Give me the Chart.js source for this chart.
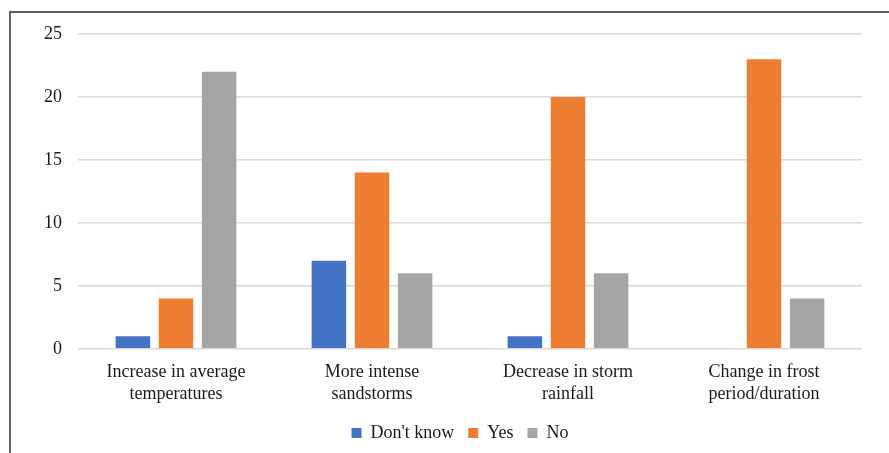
<!DOCTYPE html>
<html>
<head>
<meta charset="utf-8">
<script src="https://cdn.jsdelivr.net/npm/chart.js@4/dist/chart.umd.min.js"></script>
<style>
  html, body { margin: 0; padding: 0; background: #fff; }
  #wrap { position: relative; width: 889px; height: 453px; }
  #frame { position: absolute; left: 9px; top: 11px; right: 0; bottom: 0;
           border-left: 2px solid #5f5f5f; border-top: 2px solid #5f5f5f; pointer-events: none; }
  canvas { position: absolute; left: 0; top: 0; }
</style>
</head>
<body>
<div id="wrap">
  <canvas id="c" width="889" height="453"></canvas>
  <div id="frame"></div>
</div>
<script>
// Survey responses on perceived climate changes
const categories = [
  ['Increase in average', 'temperatures'],
  ['More intense', 'sandstorms'],
  ['Decrease in storm', 'rainfall'],
  ['Change in frost', 'period/duration']
];
const dontKnow = [1, 7, 1, 0];
const yes = [4, 14, 20, 23];
const no = [22, 6, 6, 4];
const yTicks = [0, 5, 10, 15, 20, 25];

const serif = "'Liberation Serif', 'DejaVu Serif', serif";

// Centre the legend under the plot area rather than the whole canvas
const legendUnderPlot = {
  id: 'legendUnderPlot',
  afterLayout(chart) {
    const lg = chart.legend;
    if (lg) { lg.left = 58; }
  }
};

new Chart(document.getElementById('c'), {
  type: 'bar',
  data: {
    labels: categories,
    datasets: [
      { label: "Don't know", data: dontKnow, backgroundColor: '#4472C4' },
      { label: 'Yes', data: yes, backgroundColor: '#ED7D31' },
      { label: 'No', data: no, backgroundColor: '#A5A5A5' }
    ]
  },
  plugins: [legendUnderPlot],
  options: {
    responsive: false,
    animation: false,
    datasets: { bar: { categoryPercentage: 0.66, barPercentage: 0.8 } },
    layout: { padding: { top: 34, right: 27, bottom: 1, left: 0 } },
    plugins: {
      legend: {
        position: 'bottom',
        labels: {
          boxWidth: 10, boxHeight: 10, padding: 14,
          color: '#1a1a1a',
          font: { family: serif, size: 18 }
        }
      },
      tooltip: { enabled: false }
    },
    scales: {
      x: {
        grid: { display: false },
        border: { display: false },
        ticks: { color: '#1a1a1a', font: { family: serif, size: 18 }, maxRotation: 0, padding: 5 }
      },
      y: {
        min: 0, max: 25,
        afterBuildTicks: s => { s.ticks = yTicks.map(v => ({ value: v })); },
        afterFit: s => { s.width = 78; },
        grid: { color: '#d9d9d9', lineWidth: 1.5, drawTicks: false },
        border: { display: false },
        ticks: { color: '#1a1a1a', font: { family: serif, size: 18 }, padding: 16 }
      }
    }
  }
});
</script>
</body>
</html>
